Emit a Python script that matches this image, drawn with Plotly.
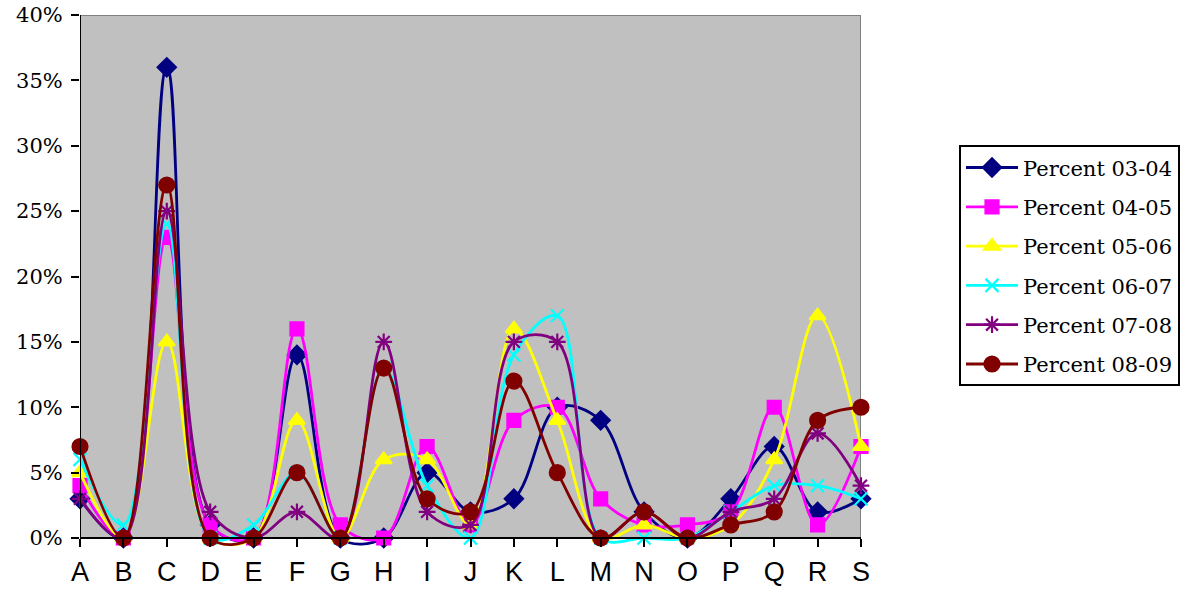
import plotly.graph_objects as go

categories = ["A","B","C","D","E","F","G","H","I","J","K","L","M","N","O","P","Q","R","S"]

p0304 = [3, 0, 36, 1, 0, 14, 0, 0, 5, 2, 3, 10, 9, 2, 0, 3, 7, 2, 3]
p0405 = [4, 0, 23, 1, 0, 16, 1, 0, 7, 1, 9, 10, 3, 1, 1, 2, 10, 1, 7]
p0506 = [5, 0, 15, 0, 0, 9, 0, 6, 6, 1, 16, 9, 0, 1, 0, 1, 6, 17, 7]
p0607 = [6, 1, 24, 0, 1, 5, 0, 13, 4, 0, 14, 17, 0, 0, 0, 2, 4, 4, 3]
p0708 = [3, 0, 25, 2, 0, 2, 0, 15, 2, 1, 15, 15, 0, 2, 0, 2, 3, 8, 4]
p0809 = [7, 0, 27, 0, 0, 5, 0, 13, 3, 2, 12, 5, 0, 2, 0, 1, 2, 9, 10]

series_names = ["Percent 03-04", "Percent 04-05", "Percent 05-06",
                "Percent 06-07", "Percent 07-08", "Percent 08-09"]
series_values = [p0304, p0405, p0506, p0607, p0708, p0809]
colors = ["#000080", "#FF00FF", "#FFFF00", "#00FFFF", "#800080", "#800000"]
symbols = ["diamond", "square", "triangle-up", "x-thin-open", "asterisk-open", "circle"]
sizes = [14, 13, 14, 13, 14, 15]

y_ticks = [0, 0.05, 0.10, 0.15, 0.20, 0.25, 0.30, 0.35, 0.40]
y_labels = ["0%", "5%", "10%", "15%", "20%", "25%", "30%", "35%", "40%"]

SERIF = "DejaVu Serif"
SANS = "Liberation Sans"

fig = go.Figure()
xs = list(range(len(categories)))
for name, vals, c, s, sz in zip(series_names, series_values, colors, symbols, sizes):
    fig.add_trace(go.Scatter(
        x=xs, y=[v / 100 for v in vals], name=name, mode="lines+markers",
        legendgroup=name,
        line=dict(color=c, width=2.8, shape="spline", smoothing=1.0),
        marker=dict(symbol=s, size=sz, color=c, line=dict(color=c, width=2.2)),
        cliponaxis=False,
    ))

ymin = -0.00688
fig.add_shape(type="rect", xref="x", yref="y", x0=0, x1=18, y0=0, y1=0.4,
              fillcolor="#C0C0C0", line=dict(width=0), layer="below")
fig.add_shape(type="line", xref="x", yref="y", x0=0, x1=18, y0=0.4, y1=0.4,
              line=dict(color="#808080", width=2), layer="below")
fig.add_shape(type="line", xref="x", yref="y", x0=18, x1=18, y0=0, y1=0.4,
              line=dict(color="#808080", width=2), layer="below")
fig.add_shape(type="line", xref="x", yref="y", x0=0, x1=0, y0=0, y1=0.4,
              line=dict(color="black", width=2), layer="above")

fig.update_layout(
    template="none",
    width=1195, height=591,
    margin=dict(l=80, r=334, t=15, b=44, autoexpand=False),
    paper_bgcolor="white", plot_bgcolor="white",
    showlegend=True,
    legend=dict(
        x=1.1255, y=0.755, xanchor="left", yanchor="top",
        bordercolor="black", borderwidth=2, bgcolor="white",
        font=dict(family=SERIF, size=21, color="black"),
        tracegroupgap=9, itemwidth=52,
    ),
    xaxis=dict(
        range=[0, 18], tickmode="array", tickvals=xs, ticktext=categories,
        showgrid=False, zeroline=False, showline=True, linecolor="black", linewidth=2,
        ticks="outside", ticklen=8, tickwidth=2, tickcolor="black",
        tickfont=dict(family=SANS, size=27, color="black"),
        anchor="free", position=0.01692, automargin=False, ticklabelstandoff=2,
    ),
    yaxis=dict(
        range=[ymin, 0.4], tickmode="array", tickvals=y_ticks, ticktext=y_labels,
        showgrid=False, zeroline=False, showline=False,
        ticks="outside", ticklen=8, tickwidth=2, tickcolor="black",
        tickfont=dict(family=SERIF, size=21, color="black"),
        automargin=False, ticklabelstandoff=4,
    ),
)

fig.write_html("out.html")
